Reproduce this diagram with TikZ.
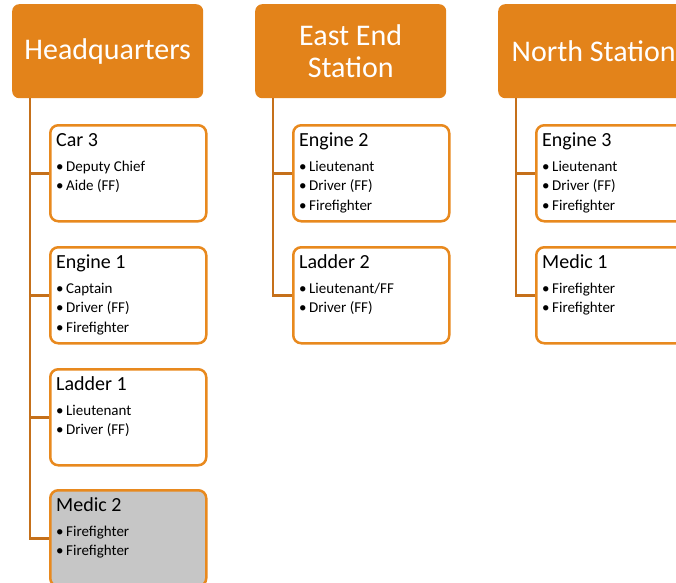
\documentclass[tikz,border=0pt]{standalone}
\usepackage{fontspec}
\setmainfont{Carlito}
\usepackage{xcolor}
\usepackage{tikz}
\definecolor{color_entete}{HTML}{E3831A}
\definecolor{color_bord}{HTML}{E8891E}
\definecolor{color_lien}{HTML}{C5701A}
\definecolor{color_gris}{HTML}{C6C6C6}
\newcommand{\puce}{\makebox[10pt][l]{\textbullet}}

\begin{document}
\begin{tikzpicture}[x=1pt, y=-1pt,
		entete/.style={fill=color_entete, rounded corners=7pt, minimum width=191pt, minimum height=94pt,
			anchor=north west, align=center, text=white, font=\fontsize{30}{32}\selectfont},
		unite/.style={draw=color_bord, line width=2.5pt, fill=white, rounded corners=8pt,
			minimum width=156pt, minimum height=96pt, anchor=north west},
		titre/.style={anchor=base west, inner sep=0pt, font=\fontsize{20}{24}\selectfont},
		membre/.style={anchor=base west, inner sep=0pt, font=\fontsize{15}{18}\selectfont},
		lien/.style={draw=color_lien, line width=2.5pt}]

		% Cadre de la page
		\useasboundingbox (0,0) rectangle (676,582);

		% Casernes
		\node[entete] (hq) at (12,4) {Headquarters};
		\node[entete] (est) at (255,4) {East End\\Station};
		\node[entete] (nord) at (498,4) {North Station};

		% Colonne Headquarters
		\node[unite] (car3) at (49,124) {};
		\node[titre] at (56,146) {Car 3};
		\node[membre] at (56,171) {\puce Deputy Chief};
		\node[membre] at (56,190.5) {\puce Aide (FF)};

		\node[unite] (eng1) at (49,246) {};
		\node[titre] at (56,268) {Engine 1};
		\node[membre] at (56,293) {\puce Captain};
		\node[membre] at (56,312.5) {\puce Driver (FF)};
		\node[membre] at (56,332) {\puce Firefighter};

		\node[unite] (lad1) at (49,368) {};
		\node[titre] at (56,390) {Ladder 1};
		\node[membre] at (56,415) {\puce Lieutenant};
		\node[membre] at (56,434.5) {\puce Driver (FF)};

		% Medic 2 - en gris
		\node[unite, fill=color_gris] (med2) at (49,489) {};
		\node[titre] at (56,511) {Medic 2};
		\node[membre] at (56,536) {\puce Firefighter};
		\node[membre] at (56,555.5) {\puce Firefighter};

		% Colonne East End
		\node[unite] (eng2) at (292,124) {};
		\node[titre] at (299,146) {Engine 2};
		\node[membre] at (299,171) {\puce Lieutenant};
		\node[membre] at (299,190.5) {\puce Driver (FF)};
		\node[membre] at (299,210) {\puce Firefighter};

		\node[unite] (lad2) at (292,246) {};
		\node[titre] at (299,268) {Ladder 2};
		\node[membre] at (299,293) {\puce Lieutenant/FF};
		\node[membre] at (299,312.5) {\puce Driver (FF)};

		% Colonne North Station
		\node[unite] (eng3) at (535,124) {};
		\node[titre] at (542,146) {Engine 3};
		\node[membre] at (542,171) {\puce Lieutenant};
		\node[membre] at (542,190.5) {\puce Driver (FF)};
		\node[membre] at (542,210) {\puce Firefighter};

		\node[unite] (med1) at (535,246) {};
		\node[titre] at (542,268) {Medic 1};
		\node[membre] at (542,293) {\puce Firefighter};
		\node[membre] at (542,312.5) {\puce Firefighter};

		% Liaisons
		\coordinate (hq-tronc) at ([xshift=18pt]hq.south west);
		\coordinate (est-tronc) at ([xshift=18pt]est.south west);
		\coordinate (nord-tronc) at ([xshift=18pt]nord.south west);
		\draw[lien] (hq-tronc) |- (car3.west) (hq-tronc) |- (eng1.west)
			(hq-tronc) |- (lad1.west) (hq-tronc) |- (med2.west);
		\draw[lien] (est-tronc) |- (eng2.west) (est-tronc) |- (lad2.west);
		\draw[lien] (nord-tronc) |- (eng3.west) (nord-tronc) |- (med1.west);
	\end{tikzpicture}
\end{document}
